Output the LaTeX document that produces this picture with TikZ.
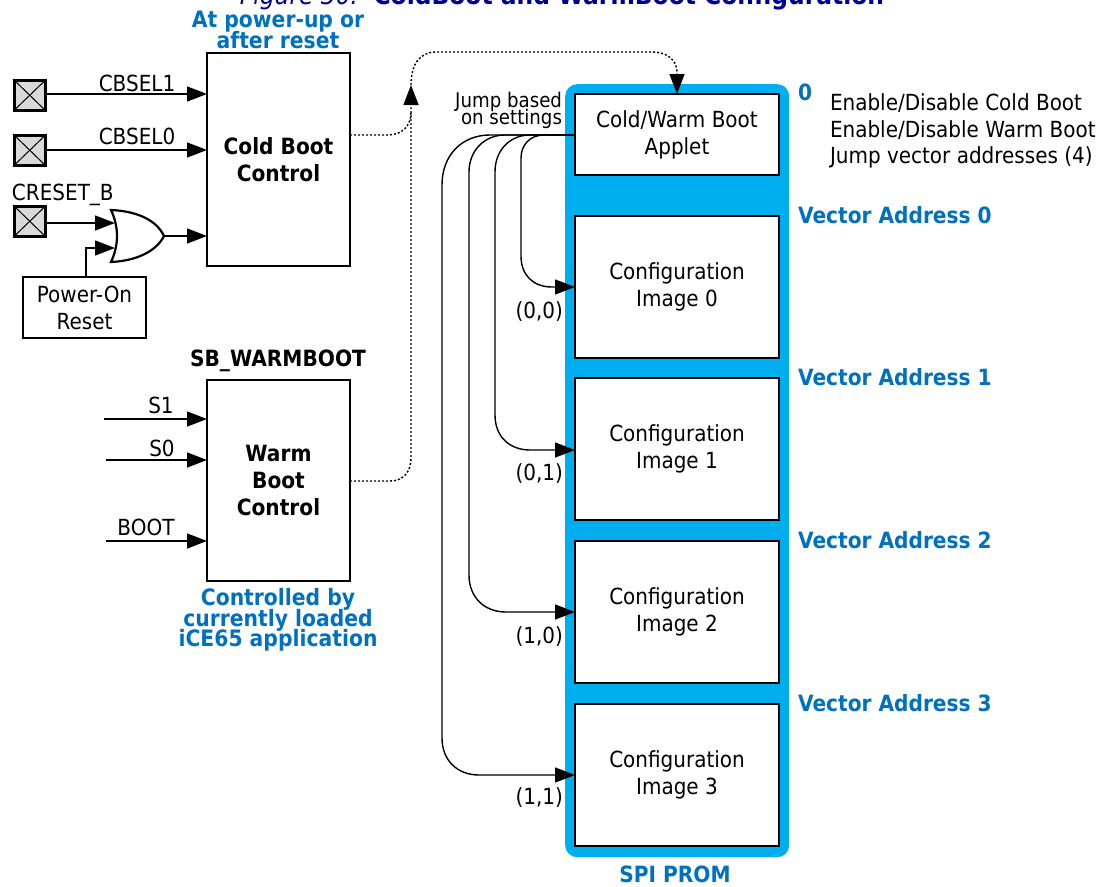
\documentclass[tikz,border=0pt]{standalone}
\usepackage{fontspec}
\setmainfont{DejaVu Sans}[FakeStretch=0.9]
\usetikzlibrary{arrows.meta}
\normallineskiplimit=-100pt
\lineskiplimit=-100pt
\AtBeginDocument{\normallineskiplimit=-100pt \lineskiplimit=-100pt}
\definecolor{lblue}{HTML}{0070C0}
\definecolor{prom}{HTML}{00AEEF}
\definecolor{padg}{HTML}{D9D9D9}
\definecolor{navy}{HTML}{000090}
\tikzset{
 x=1pt,y=-1pt,
 fnt/.style={font=\fontsize{22.2}{27}\selectfont,inner sep=0pt,outer sep=0pt},
 fntb/.style={font=\fontsize{22.4}{27}\selectfont\bfseries,inner sep=0pt,outer sep=0pt},
 lbl/.style={fnt,align=center},
 bluelbl/.style={fntb,text=lblue,align=center,font=\fontsize{22.6}{20.5}\selectfont\bfseries},
 vec/.style={fntb,text=lblue,anchor=west},
 bx/.style={draw=black,line width=2.5pt,fill=white,minimum width=0pt,inner sep=0pt,anchor=north west},
 pad/.style={draw=black,line width=2.5pt,fill=padg,anchor=north west,minimum width=31pt,minimum height=30pt,inner sep=0pt},
 arr/.style={line width=1.4pt,-{Triangle[length=20pt,width=15pt]}},
 dot/.style={line width=1.4pt,dash pattern=on 2pt off 2pt},
 dotarr/.style={dot,-{Triangle[length=20pt,width=15pt,sep=0pt]}},
}
\begin{document}
\begin{tikzpicture}
\useasboundingbox (0,0) rectangle (1102,886);
% title
\node[anchor=base,text=navy,inner sep=0pt,font=\fontsize{26}{26}\selectfont] (title) at (562,5) {\textit{Figure 30:}\ \ \textbf{ColdBoot and WarmBoot Configuration}};
% PROM
\node[fill=prom,rounded corners=12pt,minimum width=224pt,minimum height=773pt,anchor=north west,inner sep=0pt] (promb) at (565,84) {};
\node[bx,minimum width=204pt,minimum height=81pt,lbl] (applet) at (575,94) {Cold/Warm Boot\\Applet};
\node[bx,minimum width=204pt,minimum height=142pt,lbl] (im0) at (575,216) {Configuration\\Image 0};
\node[bx,minimum width=204pt,minimum height=142pt,lbl] (im1) at (575,378) {Configuration\\Image 1};
\node[bx,minimum width=204pt,minimum height=142pt,lbl] (im2) at (575,541) {Configuration\\Image 2};
\node[bx,minimum width=204pt,minimum height=142pt,lbl] (im3) at (575,704) {Configuration\\Image 3};
% control boxes
\node[bx,minimum width=143pt,minimum height=213pt,fntb,align=center] (cold) at (207,53) {Cold Boot\\Control};
\node[bx,minimum width=143pt,minimum height=201pt,fntb,align=center] (warm) at (207,380) {Warm\\Boot\\Control};
\node[bx,minimum width=123pt,minimum height=61pt,lbl] (por) at (23,277) {Power-On\\Reset};
% pads
\foreach \n/\y in {pa/79,pb/134,pc/205}{
  \node[pad] (\n) at (13,\y) {};
  \draw[line width=1pt] (\n.north west) -- (\n.south east) (\n.north east) -- (\n.south west);
}
% coordinates on boxes
\coordinate (c1) at (207,94);
\coordinate (c0) at (207,150);
\coordinate (c2) at (207,236);
\draw[arr] (pa.east |- c1) -- (c1);
\draw[arr] (pb.east |- c0) -- (c0);
\node[fnt,anchor=base] (l1) at (137,91) {CBSEL1};
\node[fnt,anchor=base] (l0) at (137,144) {CBSEL0};
\node[fnt,anchor=base west] (lr) at (12,200) {CRESET\_B};
% OR gate
\coordinate (g1) at (115,223);
\coordinate (g2) at (115,248);
\coordinate (gout) at (164,236);
\draw[line width=2.2pt,fill=white] (111,210) .. controls (135,211) and (156,219) .. (164,236)
  .. controls (156,252) and (135,261) .. (111,262) .. controls (119,245) and (119,227) .. (111,210) -- cycle;
\draw[arr] (pc.east |- g1) -- (g1);
\coordinate (pu) at (86,277);
\draw[arr] (pu) -- (pu |- g2) -- (g2);
\draw[arr] (gout) -- (c2);
% warm inputs
\coordinate (s1) at (207,419);
\coordinate (s0) at (207,460);
\coordinate (bt) at (207,541);
\coordinate (s1a) at (104,419);
\coordinate (s0a) at (106,460);
\coordinate (bta) at (106,541);
\draw[arr] (s1a) -- (s1);
\draw[arr] (s0a) -- (s0);
\draw[arr] (bta) -- (bt);
\node[fnt,anchor=base] (ls1) at (161,413) {S1};
\node[fnt,anchor=base] (ls0) at (162,456) {S0};
\node[fnt,anchor=base] (lbt) at (146,535) {BOOT};
% dotted connectors
\coordinate (d0) at (350,135);
\coordinate (d1) at (350,481);
\coordinate (dtip) at (411,85);
\coordinate (dt2) at (677,94);
\draw[dot] (d0) -- (388,135) .. controls (402,135) and (411,126) .. (411,112);
\draw[dotarr] (d1) -- (390,481) .. controls (403,481) and (411,472) .. (411,458) -- (dtip);
\draw[dotarr] (dtip) .. controls (411,64) and (420,52) .. (436,52) -- (652,52) .. controls (667,52) and (677,60) .. (677,72) -- (dt2);
% jumps
\coordinate (j) at (575,135);
\draw[arr] (j) -- (544,135) .. controls (530,135) and (521,145) .. (521,158) -- (521,256)
  .. controls (521,275) and (533,287) .. (552,287) -- (575,287);
\draw[arr] (j) -- (530,135) .. controls (510,135) and (495,150) .. (495,172) -- (495,415)
  .. controls (495,437) and (510,450) .. (530,450) -- (575,450);
\draw[arr] (j) -- (505,135) .. controls (485,135) and (469,150) .. (469,172) -- (469,575)
  .. controls (469,597) and (484,612) .. (506,612) -- (575,612);
\draw[arr] (j) -- (490,135) .. controls (462,135) and (442,155) .. (442,185) -- (442,738)
  .. controls (442,760) and (457,775) .. (479,775) -- (575,775);
% labels
\node[lbl,anchor=east,font=\fontsize{20.2}{17}\selectfont,align=right] (jb) at (562,110) {Jump based\\on settings};
\node[lbl,anchor=east] (v00) at (563,312) {(0,0)};
\node[lbl,anchor=east] (v01) at (563,474) {(0,1)};
\node[lbl,anchor=east] (v10) at (563,637) {(1,0)};
\node[lbl,anchor=east] (v11) at (563,798) {(1,1)};
\node[vec] (z) at (798,92) {0};
\node[fnt,anchor=west] (e1) at (830,103) {Enable/Disable Cold Boot};
\node[fnt,anchor=west] (e2) at (830,130) {Enable/Disable Warm Boot};
\node[fnt,anchor=west] (e3) at (830,157) {Jump vector addresses (4)};
\node[vec] (va0) at (798,215) {Vector Address 0};
\node[vec] (va1) at (798,377) {Vector Address 1};
\node[vec] (va2) at (798,540) {Vector Address 2};
\node[vec] (va3) at (798,703) {Vector Address 3};
\node[fntb,text=lblue] (spi) at (675,874) {SPI PROM};
\node[bluelbl] (top) at (278,30) {At power-up or\\after reset};
\node[fntb,text=black] (sbw) at (278,361) {SB\_WARMBOOT};
\node[bluelbl] (ctl) at (278,620) {Controlled by\\currently loaded\\iCE65 application};
\end{tikzpicture}
\end{document}
